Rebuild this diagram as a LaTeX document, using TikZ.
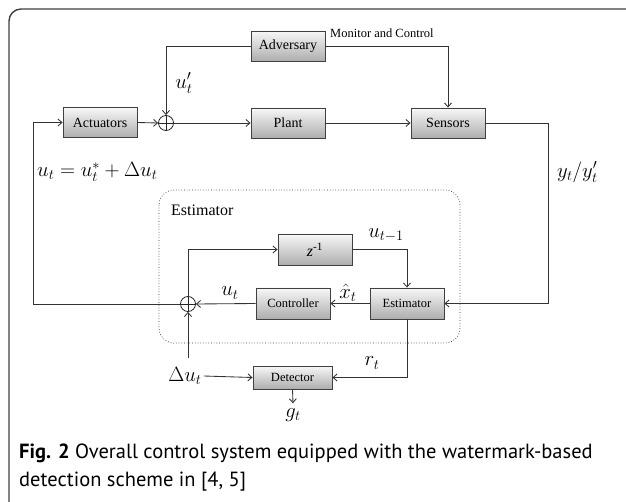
\documentclass[tikz,border=0pt]{standalone}
\usepackage{fontspec}
\newfontfamily\tnr{Liberation Serif}
\newfontfamily\capfont{PT Sans}
\usetikzlibrary{arrows.meta}
\tikzset{
  blockbox/.style={draw=black!75, line width=0.9pt, top color=black!3, bottom color=black!32,
    minimum width=74pt, minimum height=30pt, inner sep=0pt, font=\tnr\fontsize{14}{16}\selectfont},
  smallbox/.style={blockbox, minimum height=31pt, font=\tnr\fontsize{12.5}{14}\selectfont},
  sumnode/.style={circle, draw=black!85, line width=0.8pt, minimum size=15pt, inner sep=0pt,
    path picture={\draw[black!85, line width=0.8pt]
      (path picture bounding box.north) -- (path picture bounding box.south)
      (path picture bounding box.west) -- (path picture bounding box.east);}},
  mathlabel/.style={font=\fontsize{20.74}{24}\selectfont, inner sep=0pt},
  link/.style={draw=black!80, line width=0.85pt},
}
\begin{document}
\begin{tikzpicture}[x=1pt, y=-1pt, >={Straight Barb[length=4pt,width=7pt]}]
    \useasboundingbox (0,0) rectangle (626,502);
    \clip (0,0) rectangle (626,502);
    \fill[white] (0,0) rectangle (626,502);
    % frame
    \draw[black!75, line width=1.4pt, rounded corners=12pt] (640,9) -- (9,9) -- (9,520);

    % plant loop
    \node[blockbox] (adv) at (288,46) {Adversary};
    \node[blockbox] (act) at (100,122.5) {Actuators};
    \node[sumnode] (sumu) at (166,123) {};
    \node[blockbox] (plant) at (288,123) {Plant};
    \node[blockbox] (sens) at (448,123) {Sensors};

    % estimator block
    \draw[black!80, dotted, line width=0.7pt, rounded corners=15pt] (159,190) rectangle (460,343);
    \node[anchor=west, inner sep=0pt, font=\tnr\fontsize{16}{18}\selectfont] (estlab) at (171,210) {Estimator};
    \node[smallbox, font=\tnr\fontsize{16}{18}\selectfont] (zinv) at (315,249.5) {\textit{z}\textsuperscript{-1}};
    \node[smallbox] (ctrl) at (293,303.5) {Controller};
    \node[smallbox] (est) at (407,303.5) {Estimator};
    \node[sumnode] (sumd) at (188,304) {};
    \node[smallbox, minimum width=79pt, minimum height=23pt] (det) at (292.5,377.5) {Detector};

    % labels
    \node[anchor=west, inner sep=0pt, font=\tnr\fontsize{12.5}{14}\selectfont] (mon) at (330,33) {Monitor and Control};
    \node[mathlabel] (uprime) at (184,83) {$u'_t$};
    \node[mathlabel, anchor=west] (ueq) at (37,172) {$u_t = u_t^* + \Delta u_t$};
    \node[mathlabel, anchor=west] (yl) at (557,172) {$y_t/y'_t$};
    \node[mathlabel] (uprev) at (386,235) {$u_{t-1}$};
    \node[mathlabel] (xhat) at (348,293) {$\hat{x}_t$};
    \node[mathlabel] (ul) at (230,293) {$u_t$};
    \node[mathlabel] (rl) at (372,363) {$r_t$};
    \node[mathlabel, inner sep=2pt] (du) at (185,376) {$\Delta u_t$};
    \node[mathlabel, inner sep=5pt] (gl) at (293,415) {$g_t$};

    \coordinate (yturn) at (548,123);
    \coordinate (fbturn) at (33,304);
    \coordinate (dutop) at (188,358);

    % connectors
    \draw[link,->] (adv.west) -| (sumu.north);
    \draw[link,->] (adv.east) -| (sens.north);
    \draw[link,->] (act.east) -- (sumu.west);
    \draw[link,->] (sumu.east) -- (plant.west);
    \draw[link,->] (plant.east) -- (sens.west);
    \draw[link,->] (sens.east) -- (yturn) |- (est.east);
    \draw[link,->] (est.west) -- (ctrl.east);
    \draw[link,->] (ctrl.west) -- (sumd.east);
    \draw[link,->] (sumd.west) -- (fbturn) |- (act.west);
    \draw[link,->] (sumd.north) |- (zinv.west);
    \draw[link,->] (zinv.east) -| (est.north);
    \draw[link,->] (dutop) -- (sumd.south);
    \draw[link,->] (du.east) -- (det.west);
    \draw[link,->] (est.south) |- (det.east);
    \draw[link,->] (det.south) -- (gl.north);

    % caption
    \node[anchor=north west, align=left, inner sep=0pt, font=\capfont\fontsize{20.5}{28}\selectfont] (cap) at (19,444)
      {\textbf{Fig. 2} Overall control system equipped with the watermark-based\\detection scheme in [4, 5]};
\end{tikzpicture}
\end{document}
